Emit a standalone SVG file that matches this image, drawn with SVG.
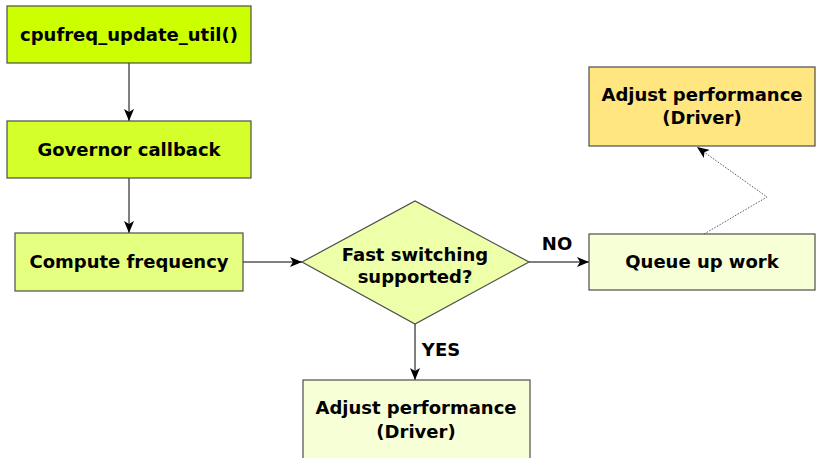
<svg xmlns="http://www.w3.org/2000/svg" width="816" height="458" viewBox="0 0 816 458">
  <style>
    .box { stroke: #4d4d4d; stroke-width: 1.2; }
    .lbl { font-family: "DejaVu Sans", "Liberation Sans", sans-serif; font-weight: bold; font-size: 18px; fill: #000; text-anchor: middle; }
    .edge { stroke: #000; stroke-width: 1; fill: none; }
    .dot { stroke: #555; stroke-width: 1; stroke-dasharray: 1.5 1.5; fill: none; }
  </style>
  <defs>
    <marker id="arr" viewBox="0 0 12 10" refX="12" refY="5" markerWidth="12" markerHeight="10" markerUnits="userSpaceOnUse" orient="auto">
      <path d="M0,0 L12,5 L0,10 L3,5 Z" fill="#000"/>
    </marker>
  </defs>

  <g id="connectors">
    <line class="edge" x1="129" y1="63" x2="129" y2="121" marker-end="url(#arr)"/>
    <line class="edge" x1="129" y1="178" x2="129" y2="233" marker-end="url(#arr)"/>
    <line class="edge" x1="243" y1="262" x2="302" y2="262" marker-end="url(#arr)"/>
    <line class="edge" x1="529" y1="262" x2="589" y2="262" marker-end="url(#arr)"/>
    <line class="edge" x1="415" y1="324" x2="415" y2="380" marker-end="url(#arr)"/>
    <polyline class="dot" points="704,234 767,197 697,147" marker-end="url(#arr)"/>
    <text class="lbl" x="557" y="250">NO</text>
    <text class="lbl" x="441" y="356">YES</text>
  </g>

  <g id="update-util">
    <rect class="box" x="7" y="6" width="244" height="57" fill="#ccff00"/>
    <text class="lbl" x="129" y="41">cpufreq_update_util()</text>
  </g>

  <g id="governor-callback">
    <rect class="box" x="7" y="121" width="244" height="57" fill="#d4ff2a"/>
    <text class="lbl" x="129" y="156">Governor callback</text>
  </g>

  <g id="compute-frequency">
    <rect class="box" x="15" y="233" width="228" height="58" fill="#e5ff80"/>
    <text class="lbl" x="129" y="268">Compute frequency</text>
  </g>

  <g id="fast-switching">
    <polygon class="box" points="302,262 415,201 529,262 415,324" fill="#eeffaa"/>
    <text class="lbl" x="415" y="261">Fast switching</text>
    <text class="lbl" x="415" y="283">supported?</text>
  </g>

  <g id="queue-work">
    <rect class="box" x="589" y="234" width="226" height="56" fill="#f6ffd5"/>
    <text class="lbl" x="702" y="268">Queue up work</text>
  </g>

  <g id="adjust-async">
    <rect class="box" x="589" y="67" width="226" height="79" fill="#ffe680"/>
    <text class="lbl" x="702" y="101">Adjust performance</text>
    <text class="lbl" x="702" y="124">(Driver)</text>
  </g>

  <g id="adjust-fast">
    <rect class="box" x="303" y="380" width="227" height="90" fill="#f6ffd5"/>
    <text class="lbl" x="416" y="414">Adjust performance</text>
    <text class="lbl" x="416" y="438">(Driver)</text>
  </g>
</svg>
